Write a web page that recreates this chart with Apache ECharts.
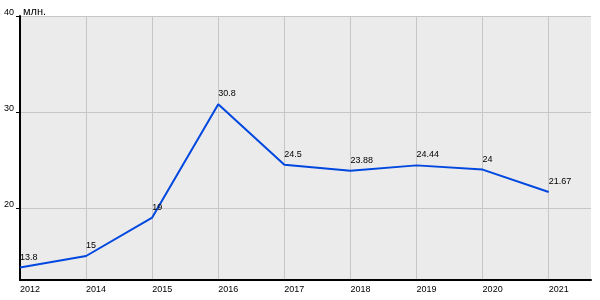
<!DOCTYPE html>
<html>
<head>
<meta charset="utf-8">
<script src="https://cdn.jsdelivr.net/npm/echarts@6/dist/echarts.min.js"></script>
<style>html,body{margin:0;padding:0;background:#fff}#c{width:600px;height:300px}</style>
</head>
<body>
<div id="c"></div>
<script>
var years = ['2012','2014','2015','2016','2017','2018','2019','2020','2021'];
var values = [13.8, 15, 19, 30.8, 24.5, 23.88, 24.44, 24, 21.67];
var yTicks = [20, 30, 40];
var unitLabel = 'млн.';

var idx = years.map(function(_, i){ return i; });
var font = 'Liberation Sans';
var chart = echarts.init(document.getElementById('c'), null, {renderer:'canvas'});
chart.setOption({
  animation: false,
  backgroundColor: '#ffffff',
  grid: {left: 20, top: 16, right: 9, bottom: 20, show: true, backgroundColor: '#ebebeb', borderWidth: 0},
  xAxis: {
    type: 'value', min: 0, max: 8.64,
    axisLine: {show: true, onZero: false, lineStyle: {color: '#000', width: 2}},
    axisTick: {show: false, customValues: idx},
    axisLabel: {customValues: idx, formatter: function(v){ return years[Math.round(v)]; },
      align: 'left', margin: 5, color: '#000', fontFamily: font, fontSize: 9},
    splitLine: {show: true, lineStyle: {color: '#c6c6c6', width: 1}}
  },
  yAxis: {
    type: 'value', min: 12.5, max: 40,
    name: unitLabel, nameLocation: 'end', nameGap: 4,
    nameTextStyle: {align: 'left', verticalAlign: 'middle', padding: [0,0,0,3], color: '#000', fontFamily: font, fontSize: 11},
    axisLine: {show: true, onZero: false, lineStyle: {color: '#000', width: 2}},
    axisTick: {show: true, length: 4, customValues: yTicks, lineStyle: {color: '#000'}},
    axisLabel: {customValues: yTicks, margin: 6, align: 'right', color: '#000', fontFamily: font, fontSize: 9,
      verticalAlign: 'bottom', lineHeight: 7},
    splitLine: {show: true, lineStyle: {color: '#c6c6c6', width: 1}}
  },
  series: [{
    type: 'line',
    data: values.map(function(v, i){ return [idx[i], v]; }),
    symbol: 'circle', symbolSize: 1,
    itemStyle: {color: 'rgba(0,0,0,0)'},
    lineStyle: {color: '#0047e0', width: 2},
    label: {show: true, position: 'top', align: 'left', distance: 5, color: '#000',
      fontFamily: font, fontSize: 9, lineHeight: 10,
      formatter: function(p){ return String(p.value[1]); }}
  }]
});
</script>
</body>
</html>
